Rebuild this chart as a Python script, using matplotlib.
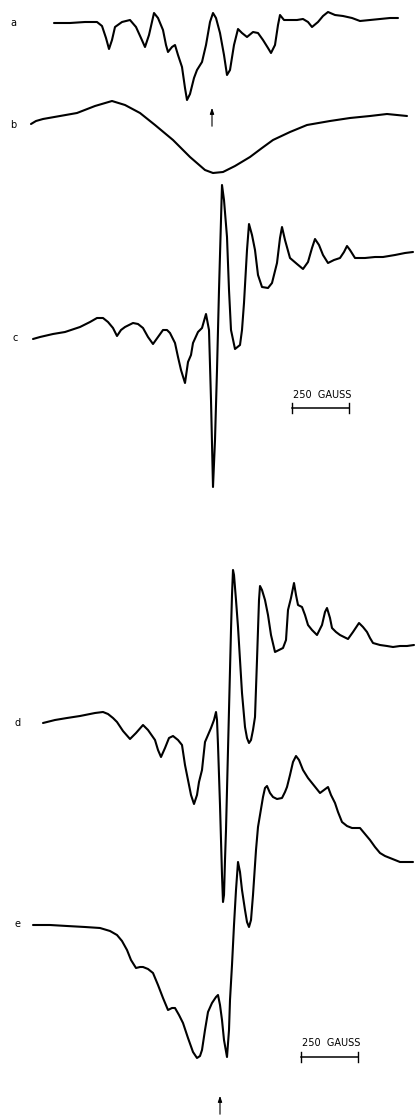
import numpy as np
import matplotlib
matplotlib.use("Agg")
import matplotlib.pyplot as plt


# traced spectra (field position, signal)
field_a = [54, 70, 85, 97, 102, 106, 109, 112, 115, 122, 130, 136, 141, 145, 149, 154, 158,
           163, 166, 168, 172, 175, 178, 182, 185, 187, 190, 194, 197, 202, 206, 210, 213, 216,
           220, 224, 227, 230, 234, 238, 242, 247, 253, 258, 263, 268, 271, 275, 278, 280, 284,
           290, 297, 303, 308, 312, 318, 323, 328, 335, 343, 352, 360, 370, 380, 390, 398]
sig_a = [23, 23, 22, 22, 26, 38, 49, 40, 27, 22, 20, 27, 38, 47, 35, 13, 18,
         30, 45, 52, 47, 45, 55, 67, 88, 100, 94, 78, 70, 62, 45, 22, 13, 18,
         33, 55, 75, 70, 45, 29, 33, 37, 32, 33, 40, 48, 53, 45, 25, 15, 20,
         20, 20, 19, 22, 27, 22, 16, 12, 15, 16, 18, 21, 20, 19, 18, 18]

field_b = [31, 36, 43, 60, 77, 95, 112, 125, 140, 155, 173, 190, 205, 213, 223, 235, 250,
           262, 273, 290, 307, 330, 350, 370, 387, 407]
sig_b = [124, 121, 119, 116, 113, 106, 101, 105, 113, 125, 140, 157, 170, 173, 172, 166, 157,
         148, 140, 132, 125, 121, 118, 116, 114, 116]

field_c = [33, 40, 53, 65, 80, 90, 97, 103, 108, 113, 117, 121, 125, 133, 138, 143, 148, 153,
           158, 163, 167, 170, 175, 178, 181, 185, 188, 191, 193, 198, 202, 206, 209, 211, 213,
           215, 217, 219, 222, 224, 227, 229, 231, 235, 240, 242, 244, 247, 249, 252, 255, 258,
           262, 268, 272, 277, 280, 282, 285, 290, 297, 303, 308, 312, 315, 319, 323, 328, 334,
           340, 344, 347, 350, 355, 365, 375, 383, 395, 405, 413]
sig_c = [339, 337, 334, 332, 327, 322, 318, 318, 322, 328, 336, 330, 327, 323, 324, 328, 337, 344,
         337, 330, 330, 333, 343, 357, 370, 383, 362, 355, 343, 332, 328, 314, 330, 400, 487,
         440, 370, 290, 185, 200, 237, 290, 330, 349, 345, 330, 303, 250, 224, 235, 250, 275,
         287, 288, 283, 263, 238, 227, 240, 258, 264, 269, 262, 248, 239, 245, 255, 263, 260,
         258, 252, 246, 250, 258, 258, 257, 257, 255, 253, 252]

field_d = [43, 55, 67, 80, 95, 103, 108, 113, 117, 123, 130, 136, 143, 148, 155, 158, 161, 165,
           169, 173, 178, 182, 185, 188, 191, 194, 197, 199, 202, 205, 208, 211, 214, 216, 217,
           218, 219, 220, 221, 222, 223, 224, 225, 226, 227, 228, 229, 230, 231, 232, 233, 234,
           236, 238, 240, 242, 245, 247, 249, 251, 253, 255, 257, 258, 259, 260, 262, 265, 268,
           271, 275, 279, 283, 286, 288, 291, 294, 296, 298, 302, 305, 308, 312, 317, 322, 325,
           327, 330, 332, 336, 340, 344, 348, 353, 359, 363, 367, 370, 373, 380, 387, 393, 400,
           407, 414]
sig_d = [723, 720, 718, 716, 713, 712, 714, 718, 722, 731, 739, 733, 725, 730, 740, 750, 757, 748,
         738, 736, 740, 745, 765, 780, 795, 804, 795, 782, 770, 742, 735, 728, 720, 712, 720,
         745, 775, 805, 840, 875, 902, 895, 860, 830, 790, 750, 710, 670, 630, 595, 570, 575,
         600, 627, 660, 693, 727, 738, 743, 740, 730, 717, 660, 630, 600, 586, 590, 600, 615,
         635, 652, 650, 648, 640, 610, 598, 583, 595, 605, 607, 615, 625, 630, 635, 625, 612,
         608, 618, 628, 632, 635, 637, 639, 632, 623, 627, 632, 638, 643, 645, 646, 647, 646,
         646, 645]

field_e = [33, 50, 67, 85, 100, 110, 117, 122, 127, 131, 136, 140, 143, 148, 153, 158, 163, 168,
           172, 175, 179, 183, 188, 193, 197, 200, 202, 205, 208, 212, 216, 218, 220, 222, 224,
           227, 229, 230, 232, 234, 236, 238, 240, 242, 245, 247, 249, 251, 253, 256, 258, 260,
           263, 265, 267, 270, 273, 277, 282, 285, 287, 290, 293, 296, 299, 303, 308, 312, 316,
           320, 324, 328, 331, 335, 338, 342, 347, 352, 356, 360, 365, 370, 375, 380, 385, 390,
           395, 400, 407, 413]
sig_e = [925, 925, 926, 927, 928, 931, 935, 941, 950, 960, 968, 967, 967, 969, 973, 985, 998, 1010,
         1008, 1008, 1015, 1023, 1038, 1052, 1058, 1056, 1050, 1030, 1012, 1003, 997, 995, 1005,
         1020, 1040, 1057, 1030, 1000, 965, 925, 890, 862, 872, 890, 910, 922, 927, 920, 895,
         850, 827, 815, 797, 788, 786, 793, 797, 799, 798, 792, 787, 775, 762, 756, 760, 770,
         778, 783, 788, 793, 790, 787, 795, 803, 812, 822, 826, 828, 828, 828, 834, 840, 847,
         853, 856, 858, 860, 862, 862, 862]

labels = ["a", "b", "c", "d", "e"]
label_x = [13, 13, 15, 18, 17]
label_y = [23, 125, 338, 723, 924]

fig = plt.figure(figsize=(4.15, 11.19), dpi=100)
ax = fig.add_axes([0, 0, 1, 1])
ax.set_xlim(0, 415)
ax.set_ylim(1119, 0)
ax.axis("off")

for fx, sy in [(field_a, sig_a), (field_b, sig_b), (field_c, sig_c),
               (field_d, sig_d), (field_e, sig_e)]:
    ax.plot(fx, sy, color="black", lw=1.5, solid_joinstyle="round", solid_capstyle="round")

for lab, lx, ly in zip(labels, label_x, label_y):
    ax.text(lx, ly, lab, fontsize=7, ha="center", va="center", color="black")

# g-value arrows
arrow_kw = dict(arrowstyle="-|>,head_length=0.35,head_width=0.12", color="black", lw=0.8)
ax.annotate("", xy=(212, 105), xytext=(212, 129), arrowprops=arrow_kw)
ax.annotate("", xy=(220, 1093), xytext=(220, 1117), arrowprops=arrow_kw)

# 250 gauss scale bars
for x0, x1, yb, yt in [(292, 349, 408, 395), (301, 358, 1057, 1043)]:
    ax.plot([x0, x1], [yb, yb], color="black", lw=1.1)
    ax.plot([x0, x0], [yb - 5, yb + 5], color="black", lw=1.0)
    ax.plot([x1, x1], [yb - 5, yb + 5], color="black", lw=1.0)
    ax.text((x0 + x1) / 2 + 2, yt, "250  GAUSS", fontsize=7, ha="center", va="center")

fig.savefig("out.png", dpi=100, facecolor="white")
